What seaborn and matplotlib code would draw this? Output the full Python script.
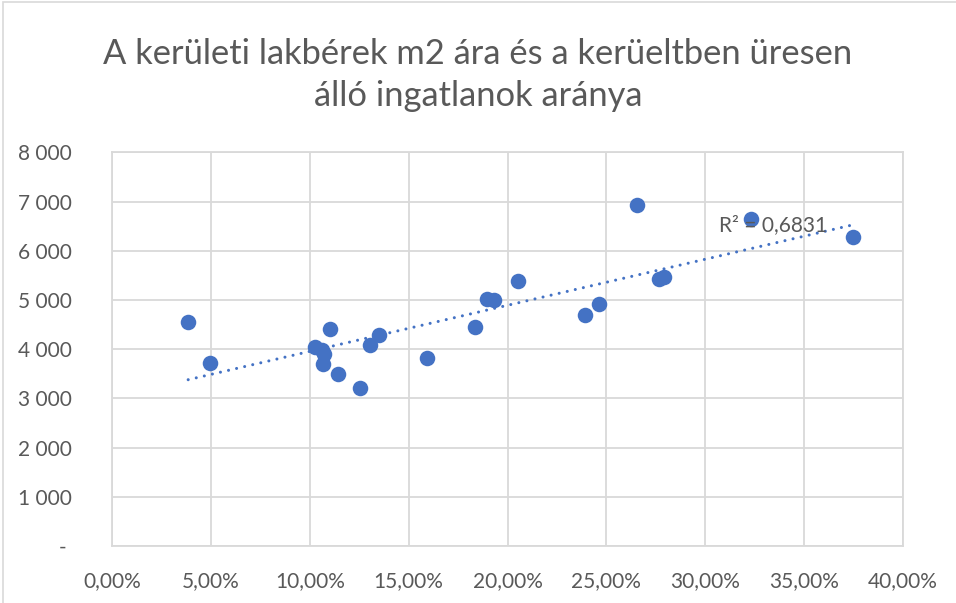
import matplotlib
matplotlib.use("Agg")
import matplotlib.pyplot as plt
import seaborn as sns
import numpy as np
import pandas as pd
from matplotlib.ticker import FuncFormatter
from matplotlib.patches import Rectangle

# ---- data ----
vacancy_pct = [3.84, 4.92, 10.25, 10.62, 10.70, 10.66, 11.02, 11.40, 12.56, 13.05,
               13.48, 15.94, 18.37, 18.95, 19.32, 20.53, 23.93, 24.62, 26.56, 27.67,
               27.93, 32.31, 37.50]
rent_m2 = [4560, 3726, 4045, 3975, 3900, 3700, 4410, 3505, 3205, 4090,
           4289, 3830, 4451, 5010, 5005, 5386, 4685, 4919, 6931, 5420,
           5474, 6646, 6287]
r2_label = "R² = 0,6831"
title = "A kerületi lakbérek m2 ára és a kerüeltben üresen\nálló ingatlanok aránya"
x_ticks = [0.00, 0.05, 0.10, 0.15, 0.20, 0.25, 0.30, 0.35, 0.40]
y_ticks = [0, 1000, 2000, 3000, 4000, 5000, 6000, 7000, 8000]

df = pd.DataFrame({"x": np.array(vacancy_pct) / 100.0, "y": rent_m2})

sns.set_theme(style="white")
plt.rcParams["font.family"] = ["Lato", "DejaVu Sans"]

BLUE = "#4472C4"
TXT = "#595959"
GRID = "#D9D9D9"

fig = plt.figure(figsize=(9.56, 6.03), dpi=100)
ax = fig.add_axes([112.3 / 956, 1 - 546 / 603, (902.7 - 112.3) / 956, (546 - 152.3) / 603])

# outer chart border
fig.patches.append(Rectangle((3 / 956, -0.01), 1.0, 1 - 2 / 603 + 0.01, transform=fig.transFigure,
                             fill=False, edgecolor=GRID, linewidth=1.2))

sns.regplot(data=df, x="x", y="y", ax=ax, scatter=False, ci=None, truncate=True,
            line_kws=dict(color=BLUE, linewidth=2.2, linestyle=(0, (0.01, 2.7)),
                          dash_capstyle="round", zorder=2))
sns.scatterplot(data=df, x="x", y="y", ax=ax, s=125, color=BLUE, edgecolor=BLUE,
                linewidth=0, zorder=3)

ax.set_xlim(0, 0.40)
ax.set_ylim(0, 8000)
ax.set_xticks(x_ticks)
ax.set_yticks(y_ticks)
ax.xaxis.set_major_formatter(FuncFormatter(lambda v, p: f"{v*100:.2f}%".replace(".", ",")))
ax.yaxis.set_major_formatter(FuncFormatter(
    lambda v, p: "- " if v == 0 else f"{int(round(v)):,}".replace(",", " ")))
ax.grid(True, color=GRID, linewidth=1.3)
ax.set_axisbelow(True)
for s in ax.spines.values():
    s.set_color(GRID)
    s.set_linewidth(1.3)
ax.tick_params(axis="both", length=0, labelsize=15, colors=TXT)
ax.tick_params(axis="y", pad=29)
ax.tick_params(axis="x", pad=18)
ax.set_xlabel("")
ax.set_ylabel("")

ax.text(0.3072, 6524, r2_label, fontsize=15, color=TXT, ha="left", va="center", zorder=4)

fig.text(0.5, 1 - 75 / 603, title, ha="center", va="center", fontsize=24.8, color=TXT,
         linespacing=1.4)

fig.savefig("out.png", dpi=100)
